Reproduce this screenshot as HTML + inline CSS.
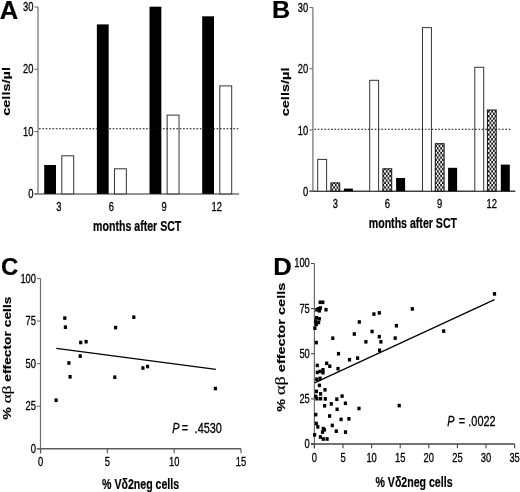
<!DOCTYPE html>
<html><head><meta charset="utf-8"><title>Figure</title>
<style>
html,body{margin:0;padding:0;background:#fff;}
body{width:520px;height:492px;overflow:hidden;}
svg{display:block;font-family:"Liberation Sans",sans-serif;filter:blur(0.35px);}
text{fill:#000;}
text.r{stroke:#000;stroke-width:0.3px;}
text.b{stroke:#000;stroke-width:0.2px;}
</style></head><body>
<svg width="520" height="492" viewBox="0 0 520 492">
<defs>
<pattern id="hatch" x="0" y="0" width="3.4" height="4.6" patternUnits="userSpaceOnUse">
<rect width="3.4" height="4.6" fill="#111"/>
<rect x="0" y="0" width="1.7" height="2.3" fill="#fff"/>
<rect x="1.7" y="2.3" width="1.7" height="2.3" fill="#fff"/>
</pattern>
</defs>
<rect width="520" height="492" fill="#fff"/>
<line x1="38" y1="7.0" x2="38" y2="193.9" stroke="#6e6e6e" stroke-width="1.2"/>
<line x1="34.5" y1="193.9" x2="239" y2="193.9" stroke="#717171" stroke-width="1.5"/>
<line x1="34.5" y1="193.90" x2="38" y2="193.90" stroke="#6e6e6e" stroke-width="1.1"/>
<text class="r" transform="translate(33.4,197.8) scale(0.78,1)" font-size="12" text-anchor="end" font-weight="normal" font-style="normal" >0</text>
<line x1="34.5" y1="131.60" x2="38" y2="131.60" stroke="#6e6e6e" stroke-width="1.1"/>
<text class="r" transform="translate(33.4,135.5) scale(0.78,1)" font-size="12" text-anchor="end" font-weight="normal" font-style="normal" >10</text>
<line x1="34.5" y1="69.30" x2="38" y2="69.30" stroke="#6e6e6e" stroke-width="1.1"/>
<text class="r" transform="translate(33.4,73.2) scale(0.78,1)" font-size="12" text-anchor="end" font-weight="normal" font-style="normal" >20</text>
<line x1="34.5" y1="7.00" x2="38" y2="7.00" stroke="#6e6e6e" stroke-width="1.1"/>
<text class="r" transform="translate(33.4,10.9) scale(0.78,1)" font-size="12" text-anchor="end" font-weight="normal" font-style="normal" >30</text>
<rect x="44.20" y="165.0" width="11.8" height="28.90" fill="#000"/>
<rect x="61.80" y="155.8" width="11.9" height="38.10" fill="#fff" stroke="#333" stroke-width="1"/>
<text class="r" transform="translate(58.800000000000004,210.6) scale(0.78,1)" font-size="12" text-anchor="middle" font-weight="normal" font-style="normal" >3</text>
<rect x="96.87" y="24.4" width="11.8" height="169.50" fill="#000"/>
<rect x="114.47" y="168.8" width="11.9" height="25.10" fill="#fff" stroke="#333" stroke-width="1"/>
<text class="r" transform="translate(111.46666666666667,210.6) scale(0.78,1)" font-size="12" text-anchor="middle" font-weight="normal" font-style="normal" >6</text>
<rect x="149.53" y="6.7" width="11.8" height="187.20" fill="#000"/>
<rect x="167.13" y="115.1" width="11.9" height="78.80" fill="#fff" stroke="#333" stroke-width="1"/>
<text class="r" transform="translate(164.13333333333333,210.6) scale(0.78,1)" font-size="12" text-anchor="middle" font-weight="normal" font-style="normal" >9</text>
<rect x="202.20" y="16.3" width="11.8" height="177.60" fill="#000"/>
<rect x="219.80" y="85.9" width="11.9" height="108.00" fill="#fff" stroke="#333" stroke-width="1"/>
<text class="r" transform="translate(216.79999999999998,210.6) scale(0.78,1)" font-size="12" text-anchor="middle" font-weight="normal" font-style="normal" >12</text>
<line x1="39" y1="128.7" x2="238.5" y2="128.7" stroke="#111" stroke-width="1.1" stroke-dasharray="1.7 1.65"/>
<text class="b" transform="translate(137.2,230.6) scale(0.737,1)" font-size="14.4" text-anchor="middle" font-weight="bold" font-style="normal" >months after SCT</text>
<text class="b" transform="translate(10.2,91.4) scale(0.78,1) rotate(-90)" font-size="14.6" text-anchor="middle" font-weight="bold">cells/µl</text>
<text class="b" transform="translate(-0.2,18.7) scale(1,1)" font-size="25.5" text-anchor="start" font-weight="bold" font-style="normal" >A</text>
<line x1="312.9" y1="7.5" x2="312.9" y2="191.2" stroke="#6e6e6e" stroke-width="1.2"/>
<line x1="309.5" y1="191.2" x2="515.3" y2="191.2" stroke="#404040" stroke-width="1.4"/>
<line x1="309.5" y1="191.20" x2="312.9" y2="191.20" stroke="#6e6e6e" stroke-width="1.1"/>
<text class="r" transform="translate(308.1,195.79999999999998) scale(0.78,1)" font-size="12" text-anchor="end" font-weight="normal" font-style="normal" >0</text>
<line x1="309.5" y1="129.97" x2="312.9" y2="129.97" stroke="#6e6e6e" stroke-width="1.1"/>
<text class="r" transform="translate(308.1,134.56666666666666) scale(0.78,1)" font-size="12" text-anchor="end" font-weight="normal" font-style="normal" >10</text>
<line x1="309.5" y1="68.73" x2="312.9" y2="68.73" stroke="#6e6e6e" stroke-width="1.1"/>
<text class="r" transform="translate(308.1,73.33333333333333) scale(0.78,1)" font-size="12" text-anchor="end" font-weight="normal" font-style="normal" >20</text>
<line x1="309.5" y1="7.50" x2="312.9" y2="7.50" stroke="#6e6e6e" stroke-width="1.1"/>
<text class="r" transform="translate(308.1,12.1) scale(0.78,1)" font-size="12" text-anchor="end" font-weight="normal" font-style="normal" >30</text>
<rect x="317.70" y="159.4" width="8.9" height="31.80" fill="#fff" stroke="#333" stroke-width="1"/>
<rect x="330.90" y="182.9" width="8.8" height="8.30" fill="url(#hatch)" stroke="#111" stroke-width="1"/>
<rect x="343.90" y="188.6" width="9.0" height="2.60" fill="#000"/>
<text class="r" transform="translate(335.29999999999995,208.2) scale(0.78,1)" font-size="12" text-anchor="middle" font-weight="normal" font-style="normal" >3</text>
<rect x="369.70" y="80.3" width="8.9" height="110.90" fill="#fff" stroke="#333" stroke-width="1"/>
<rect x="382.90" y="168.8" width="8.8" height="22.40" fill="url(#hatch)" stroke="#111" stroke-width="1"/>
<rect x="396.10" y="178.0" width="9.0" height="13.20" fill="#000"/>
<text class="r" transform="translate(387.29999999999995,208.2) scale(0.78,1)" font-size="12" text-anchor="middle" font-weight="normal" font-style="normal" >6</text>
<rect x="422.50" y="27.6" width="8.9" height="163.60" fill="#fff" stroke="#333" stroke-width="1"/>
<rect x="435.30" y="143.7" width="8.8" height="47.50" fill="url(#hatch)" stroke="#111" stroke-width="1"/>
<rect x="448.10" y="167.8" width="9.0" height="23.40" fill="#000"/>
<text class="r" transform="translate(439.7,208.2) scale(0.78,1)" font-size="12" text-anchor="middle" font-weight="normal" font-style="normal" >9</text>
<rect x="474.80" y="67.3" width="8.9" height="123.90" fill="#fff" stroke="#333" stroke-width="1"/>
<rect x="487.40" y="110.0" width="8.8" height="81.20" fill="url(#hatch)" stroke="#111" stroke-width="1"/>
<rect x="500.80" y="164.6" width="9.0" height="26.60" fill="#000"/>
<text class="r" transform="translate(491.79999999999995,208.2) scale(0.78,1)" font-size="12" text-anchor="middle" font-weight="normal" font-style="normal" >12</text>
<line x1="314.3" y1="129.3" x2="511" y2="129.3" stroke="#111" stroke-width="1.1" stroke-dasharray="1.7 1.65"/>
<text class="b" transform="translate(412.9,227.7) scale(0.737,1)" font-size="14.4" text-anchor="middle" font-weight="bold" font-style="normal" >months after SCT</text>
<text class="b" transform="translate(288.6,91.9) scale(0.78,1) rotate(-90)" font-size="14.6" text-anchor="middle" font-weight="bold">cells/µl</text>
<text class="b" transform="translate(272.0,17.8) scale(1.05,1)" font-size="24" text-anchor="start" font-weight="bold" font-style="normal" >B</text>
<line x1="40.5" y1="278.5" x2="40.5" y2="453.3" stroke="#6e6e6e" stroke-width="1.2"/>
<line x1="36.7" y1="448.8" x2="241" y2="448.8" stroke="#5e5e5e" stroke-width="1.5"/>
<line x1="37" y1="448.80" x2="40.5" y2="448.80" stroke="#6e6e6e" stroke-width="1.1"/>
<text class="r" transform="translate(36.0,453.0) scale(0.78,1)" font-size="12" text-anchor="end" font-weight="normal" font-style="normal" >0</text>
<line x1="37" y1="406.23" x2="40.5" y2="406.23" stroke="#6e6e6e" stroke-width="1.1"/>
<text class="r" transform="translate(36.0,410.425) scale(0.78,1)" font-size="12" text-anchor="end" font-weight="normal" font-style="normal" >25</text>
<line x1="37" y1="363.65" x2="40.5" y2="363.65" stroke="#6e6e6e" stroke-width="1.1"/>
<text class="r" transform="translate(36.0,367.84999999999997) scale(0.78,1)" font-size="12" text-anchor="end" font-weight="normal" font-style="normal" >50</text>
<line x1="37" y1="321.07" x2="40.5" y2="321.07" stroke="#6e6e6e" stroke-width="1.1"/>
<text class="r" transform="translate(36.0,325.275) scale(0.78,1)" font-size="12" text-anchor="end" font-weight="normal" font-style="normal" >75</text>
<line x1="37" y1="278.50" x2="40.5" y2="278.50" stroke="#6e6e6e" stroke-width="1.1"/>
<text class="r" transform="translate(36.0,282.7) scale(0.78,1)" font-size="12" text-anchor="end" font-weight="normal" font-style="normal" >100</text>
<line x1="40.60" y1="448.8" x2="40.60" y2="453.3" stroke="#555" stroke-width="1.1"/>
<text class="r" transform="translate(40.6,465.8) scale(0.78,1)" font-size="12" text-anchor="middle" font-weight="normal" font-style="normal" >0</text>
<line x1="107.40" y1="448.8" x2="107.40" y2="453.3" stroke="#555" stroke-width="1.1"/>
<text class="r" transform="translate(107.4,465.8) scale(0.78,1)" font-size="12" text-anchor="middle" font-weight="normal" font-style="normal" >5</text>
<line x1="174.20" y1="448.8" x2="174.20" y2="453.3" stroke="#555" stroke-width="1.1"/>
<text class="r" transform="translate(174.20000000000002,465.8) scale(0.78,1)" font-size="12" text-anchor="middle" font-weight="normal" font-style="normal" >10</text>
<line x1="241.00" y1="448.8" x2="241.00" y2="453.3" stroke="#555" stroke-width="1.1"/>
<text class="r" transform="translate(241.0,465.8) scale(0.78,1)" font-size="12" text-anchor="middle" font-weight="normal" font-style="normal" >15</text>
<rect x="54.50" y="398.40" width="3.2" height="3.6" fill="#000"/>
<rect x="63.20" y="316.30" width="3.2" height="3.6" fill="#000"/>
<rect x="63.80" y="325.40" width="3.2" height="3.6" fill="#000"/>
<rect x="114.00" y="325.80" width="3.2" height="3.6" fill="#000"/>
<rect x="132.20" y="315.40" width="3.2" height="3.6" fill="#000"/>
<rect x="79.10" y="340.70" width="3.2" height="3.6" fill="#000"/>
<rect x="84.50" y="339.90" width="3.2" height="3.6" fill="#000"/>
<rect x="78.60" y="354.30" width="3.2" height="3.6" fill="#000"/>
<rect x="67.30" y="361.20" width="3.2" height="3.6" fill="#000"/>
<rect x="68.50" y="375.00" width="3.2" height="3.6" fill="#000"/>
<rect x="113.20" y="375.40" width="3.2" height="3.6" fill="#000"/>
<rect x="141.30" y="366.20" width="3.2" height="3.6" fill="#000"/>
<rect x="146.00" y="364.70" width="3.2" height="3.6" fill="#000"/>
<rect x="213.80" y="386.70" width="3.2" height="3.6" fill="#000"/>
<line x1="56.3" y1="348.4" x2="215.9" y2="369.3" stroke="#000" stroke-width="1.3"/>
<text class="b" transform="translate(140.6,489.3) scale(0.737,1)" font-size="14.4" text-anchor="middle" font-weight="bold" font-style="normal" >% Vδ2neg cells</text>
<text class="b" transform="translate(10.7,358.0) scale(0.78,1) rotate(-90)" font-size="13.8" text-anchor="middle" font-weight="bold">% <tspan font-family="Liberation Serif" font-weight="normal" font-size="125%" class="r">αβ</tspan> effector cells</text>
<text class="r" transform="translate(172.2,433.2) scale(0.78,1)" font-size="14" text-anchor="start" font-weight="normal" font-style="italic" >P</text>
<text class="r" transform="translate(181.7,433.2) scale(0.78,1)" font-size="14" text-anchor="start" font-weight="normal" font-style="normal" >=</text>
<text class="r" transform="translate(194.6,433.2) scale(0.78,1)" font-size="14" text-anchor="start" font-weight="normal" font-style="normal" >.4530</text>
<text class="b" transform="translate(1.0,275.2) scale(1,1)" font-size="24" text-anchor="start" font-weight="bold" font-style="normal" >C</text>
<line x1="314.4" y1="263.5" x2="314.4" y2="448.3" stroke="#6e6e6e" stroke-width="1.2"/>
<line x1="311" y1="444.0" x2="514.6" y2="444.0" stroke="#444" stroke-width="1.6"/>
<line x1="311" y1="444.00" x2="314.4" y2="444.00" stroke="#444" stroke-width="1.1"/>
<text class="r" transform="translate(309.8,448.2) scale(0.78,1)" font-size="12" text-anchor="end" font-weight="normal" font-style="normal" >0</text>
<line x1="311" y1="398.88" x2="314.4" y2="398.88" stroke="#444" stroke-width="1.1"/>
<text class="r" transform="translate(309.8,403.075) scale(0.78,1)" font-size="12" text-anchor="end" font-weight="normal" font-style="normal" >25</text>
<line x1="311" y1="353.75" x2="314.4" y2="353.75" stroke="#444" stroke-width="1.1"/>
<text class="r" transform="translate(309.8,357.95) scale(0.78,1)" font-size="12" text-anchor="end" font-weight="normal" font-style="normal" >50</text>
<line x1="311" y1="308.62" x2="314.4" y2="308.62" stroke="#444" stroke-width="1.1"/>
<text class="r" transform="translate(309.8,312.825) scale(0.78,1)" font-size="12" text-anchor="end" font-weight="normal" font-style="normal" >75</text>
<line x1="311" y1="263.50" x2="314.4" y2="263.50" stroke="#444" stroke-width="1.1"/>
<text class="r" transform="translate(309.8,266.7) scale(0.78,1)" font-size="12" text-anchor="end" font-weight="normal" font-style="normal" >100</text>
<line x1="314.40" y1="444.0" x2="314.40" y2="448.3" stroke="#444" stroke-width="1.1"/>
<text class="r" transform="translate(314.4,461.6) scale(0.78,1)" font-size="12" text-anchor="middle" font-weight="normal" font-style="normal" >0</text>
<line x1="343.00" y1="444.0" x2="343.00" y2="448.3" stroke="#444" stroke-width="1.1"/>
<text class="r" transform="translate(343.0,461.6) scale(0.78,1)" font-size="12" text-anchor="middle" font-weight="normal" font-style="normal" >5</text>
<line x1="371.60" y1="444.0" x2="371.60" y2="448.3" stroke="#444" stroke-width="1.1"/>
<text class="r" transform="translate(371.6,461.6) scale(0.78,1)" font-size="12" text-anchor="middle" font-weight="normal" font-style="normal" >10</text>
<line x1="400.20" y1="444.0" x2="400.20" y2="448.3" stroke="#444" stroke-width="1.1"/>
<text class="r" transform="translate(400.2,461.6) scale(0.78,1)" font-size="12" text-anchor="middle" font-weight="normal" font-style="normal" >15</text>
<line x1="428.80" y1="444.0" x2="428.80" y2="448.3" stroke="#444" stroke-width="1.1"/>
<text class="r" transform="translate(428.8,461.6) scale(0.78,1)" font-size="12" text-anchor="middle" font-weight="normal" font-style="normal" >20</text>
<line x1="457.40" y1="444.0" x2="457.40" y2="448.3" stroke="#444" stroke-width="1.1"/>
<text class="r" transform="translate(457.4,461.6) scale(0.78,1)" font-size="12" text-anchor="middle" font-weight="normal" font-style="normal" >25</text>
<line x1="486.00" y1="444.0" x2="486.00" y2="448.3" stroke="#444" stroke-width="1.1"/>
<text class="r" transform="translate(486.0,461.6) scale(0.78,1)" font-size="12" text-anchor="middle" font-weight="normal" font-style="normal" >30</text>
<line x1="514.60" y1="444.0" x2="514.60" y2="448.3" stroke="#444" stroke-width="1.1"/>
<text class="r" transform="translate(514.6,461.6) scale(0.78,1)" font-size="12" text-anchor="middle" font-weight="normal" font-style="normal" >35</text>
<rect x="318.60" y="300.50" width="3.2" height="3.6" fill="#000"/>
<rect x="321.20" y="300.50" width="3.2" height="3.6" fill="#000"/>
<rect x="316.60" y="307.00" width="3.2" height="3.6" fill="#000"/>
<rect x="318.80" y="306.20" width="3.2" height="3.6" fill="#000"/>
<rect x="317.80" y="309.00" width="3.2" height="3.6" fill="#000"/>
<rect x="315.20" y="308.00" width="3.2" height="3.6" fill="#000"/>
<rect x="324.40" y="307.90" width="3.2" height="3.6" fill="#000"/>
<rect x="314.90" y="316.00" width="3.2" height="3.6" fill="#000"/>
<rect x="317.70" y="317.00" width="3.2" height="3.6" fill="#000"/>
<rect x="314.00" y="319.40" width="3.2" height="3.6" fill="#000"/>
<rect x="317.00" y="320.70" width="3.2" height="3.6" fill="#000"/>
<rect x="314.70" y="322.70" width="3.2" height="3.6" fill="#000"/>
<rect x="313.30" y="326.40" width="3.2" height="3.6" fill="#000"/>
<rect x="492.90" y="292.10" width="3.2" height="3.6" fill="#000"/>
<rect x="410.70" y="307.10" width="3.2" height="3.6" fill="#000"/>
<rect x="394.80" y="323.90" width="3.2" height="3.6" fill="#000"/>
<rect x="393.60" y="336.30" width="3.2" height="3.6" fill="#000"/>
<rect x="442.10" y="329.30" width="3.2" height="3.6" fill="#000"/>
<rect x="372.30" y="312.30" width="3.2" height="3.6" fill="#000"/>
<rect x="377.70" y="311.10" width="3.2" height="3.6" fill="#000"/>
<rect x="357.70" y="320.20" width="3.2" height="3.6" fill="#000"/>
<rect x="352.70" y="332.20" width="3.2" height="3.6" fill="#000"/>
<rect x="370.50" y="329.70" width="3.2" height="3.6" fill="#000"/>
<rect x="377.70" y="334.90" width="3.2" height="3.6" fill="#000"/>
<rect x="364.30" y="340.00" width="3.2" height="3.6" fill="#000"/>
<rect x="379.30" y="340.00" width="3.2" height="3.6" fill="#000"/>
<rect x="378.00" y="348.50" width="3.2" height="3.6" fill="#000"/>
<rect x="314.70" y="340.80" width="3.2" height="3.6" fill="#000"/>
<rect x="331.20" y="336.40" width="3.2" height="3.6" fill="#000"/>
<rect x="336.90" y="351.90" width="3.2" height="3.6" fill="#000"/>
<rect x="347.90" y="357.90" width="3.2" height="3.6" fill="#000"/>
<rect x="356.00" y="356.30" width="3.2" height="3.6" fill="#000"/>
<rect x="315.70" y="363.60" width="3.2" height="3.6" fill="#000"/>
<rect x="325.10" y="361.50" width="3.2" height="3.6" fill="#000"/>
<rect x="328.20" y="364.40" width="3.2" height="3.6" fill="#000"/>
<rect x="336.40" y="366.90" width="3.2" height="3.6" fill="#000"/>
<rect x="315.70" y="370.60" width="3.2" height="3.6" fill="#000"/>
<rect x="318.50" y="369.60" width="3.2" height="3.6" fill="#000"/>
<rect x="321.40" y="368.00" width="3.2" height="3.6" fill="#000"/>
<rect x="321.40" y="370.90" width="3.2" height="3.6" fill="#000"/>
<rect x="315.20" y="377.40" width="3.2" height="3.6" fill="#000"/>
<rect x="318.50" y="376.60" width="3.2" height="3.6" fill="#000"/>
<rect x="317.80" y="383.60" width="3.2" height="3.6" fill="#000"/>
<rect x="314.90" y="389.60" width="3.2" height="3.6" fill="#000"/>
<rect x="323.40" y="388.00" width="3.2" height="3.6" fill="#000"/>
<rect x="319.00" y="392.10" width="3.2" height="3.6" fill="#000"/>
<rect x="314.20" y="394.60" width="3.2" height="3.6" fill="#000"/>
<rect x="315.30" y="396.90" width="3.2" height="3.6" fill="#000"/>
<rect x="319.00" y="396.90" width="3.2" height="3.6" fill="#000"/>
<rect x="323.70" y="397.10" width="3.2" height="3.6" fill="#000"/>
<rect x="340.50" y="394.30" width="3.2" height="3.6" fill="#000"/>
<rect x="335.20" y="397.40" width="3.2" height="3.6" fill="#000"/>
<rect x="329.70" y="402.10" width="3.2" height="3.6" fill="#000"/>
<rect x="343.80" y="401.50" width="3.2" height="3.6" fill="#000"/>
<rect x="323.00" y="404.00" width="3.2" height="3.6" fill="#000"/>
<rect x="335.50" y="407.50" width="3.2" height="3.6" fill="#000"/>
<rect x="357.40" y="406.70" width="3.2" height="3.6" fill="#000"/>
<rect x="314.20" y="412.80" width="3.2" height="3.6" fill="#000"/>
<rect x="328.00" y="414.20" width="3.2" height="3.6" fill="#000"/>
<rect x="339.50" y="417.60" width="3.2" height="3.6" fill="#000"/>
<rect x="347.30" y="417.00" width="3.2" height="3.6" fill="#000"/>
<rect x="314.70" y="421.70" width="3.2" height="3.6" fill="#000"/>
<rect x="316.20" y="425.10" width="3.2" height="3.6" fill="#000"/>
<rect x="330.70" y="423.60" width="3.2" height="3.6" fill="#000"/>
<rect x="321.70" y="426.80" width="3.2" height="3.6" fill="#000"/>
<rect x="322.80" y="428.00" width="3.2" height="3.6" fill="#000"/>
<rect x="320.90" y="430.30" width="3.2" height="3.6" fill="#000"/>
<rect x="334.70" y="429.40" width="3.2" height="3.6" fill="#000"/>
<rect x="343.90" y="430.30" width="3.2" height="3.6" fill="#000"/>
<rect x="313.00" y="433.00" width="3.2" height="3.6" fill="#000"/>
<rect x="318.80" y="435.20" width="3.2" height="3.6" fill="#000"/>
<rect x="321.70" y="437.20" width="3.2" height="3.6" fill="#000"/>
<rect x="325.50" y="437.20" width="3.2" height="3.6" fill="#000"/>
<rect x="397.60" y="403.80" width="3.2" height="3.6" fill="#000"/>
<line x1="314.5" y1="382.8" x2="494.5" y2="299.6" stroke="#000" stroke-width="1.3"/>
<text class="b" transform="translate(414.0,486.5) scale(0.737,1)" font-size="14.4" text-anchor="middle" font-weight="bold" font-style="normal" >% Vδ2neg cells</text>
<text class="b" transform="translate(284.8,347.3) scale(0.78,1) rotate(-90)" font-size="14.5" text-anchor="middle" font-weight="bold">% <tspan font-family="Liberation Serif" font-weight="normal" font-size="125%" class="r">αβ</tspan> effector cells</text>
<text class="r" transform="translate(447.3,425.8) scale(0.78,1)" font-size="14" text-anchor="start" font-weight="normal" font-style="italic" >P</text>
<text class="r" transform="translate(458.8,425.8) scale(0.78,1)" font-size="14" text-anchor="start" font-weight="normal" font-style="normal" >=</text>
<text class="r" transform="translate(468.3,425.8) scale(0.78,1)" font-size="14" text-anchor="start" font-weight="normal" font-style="normal" >.0022</text>
<text class="b" transform="translate(273.3,275.4) scale(1.07,1)" font-size="24" text-anchor="start" font-weight="bold" font-style="normal" >D</text>
</svg>
</body></html>
